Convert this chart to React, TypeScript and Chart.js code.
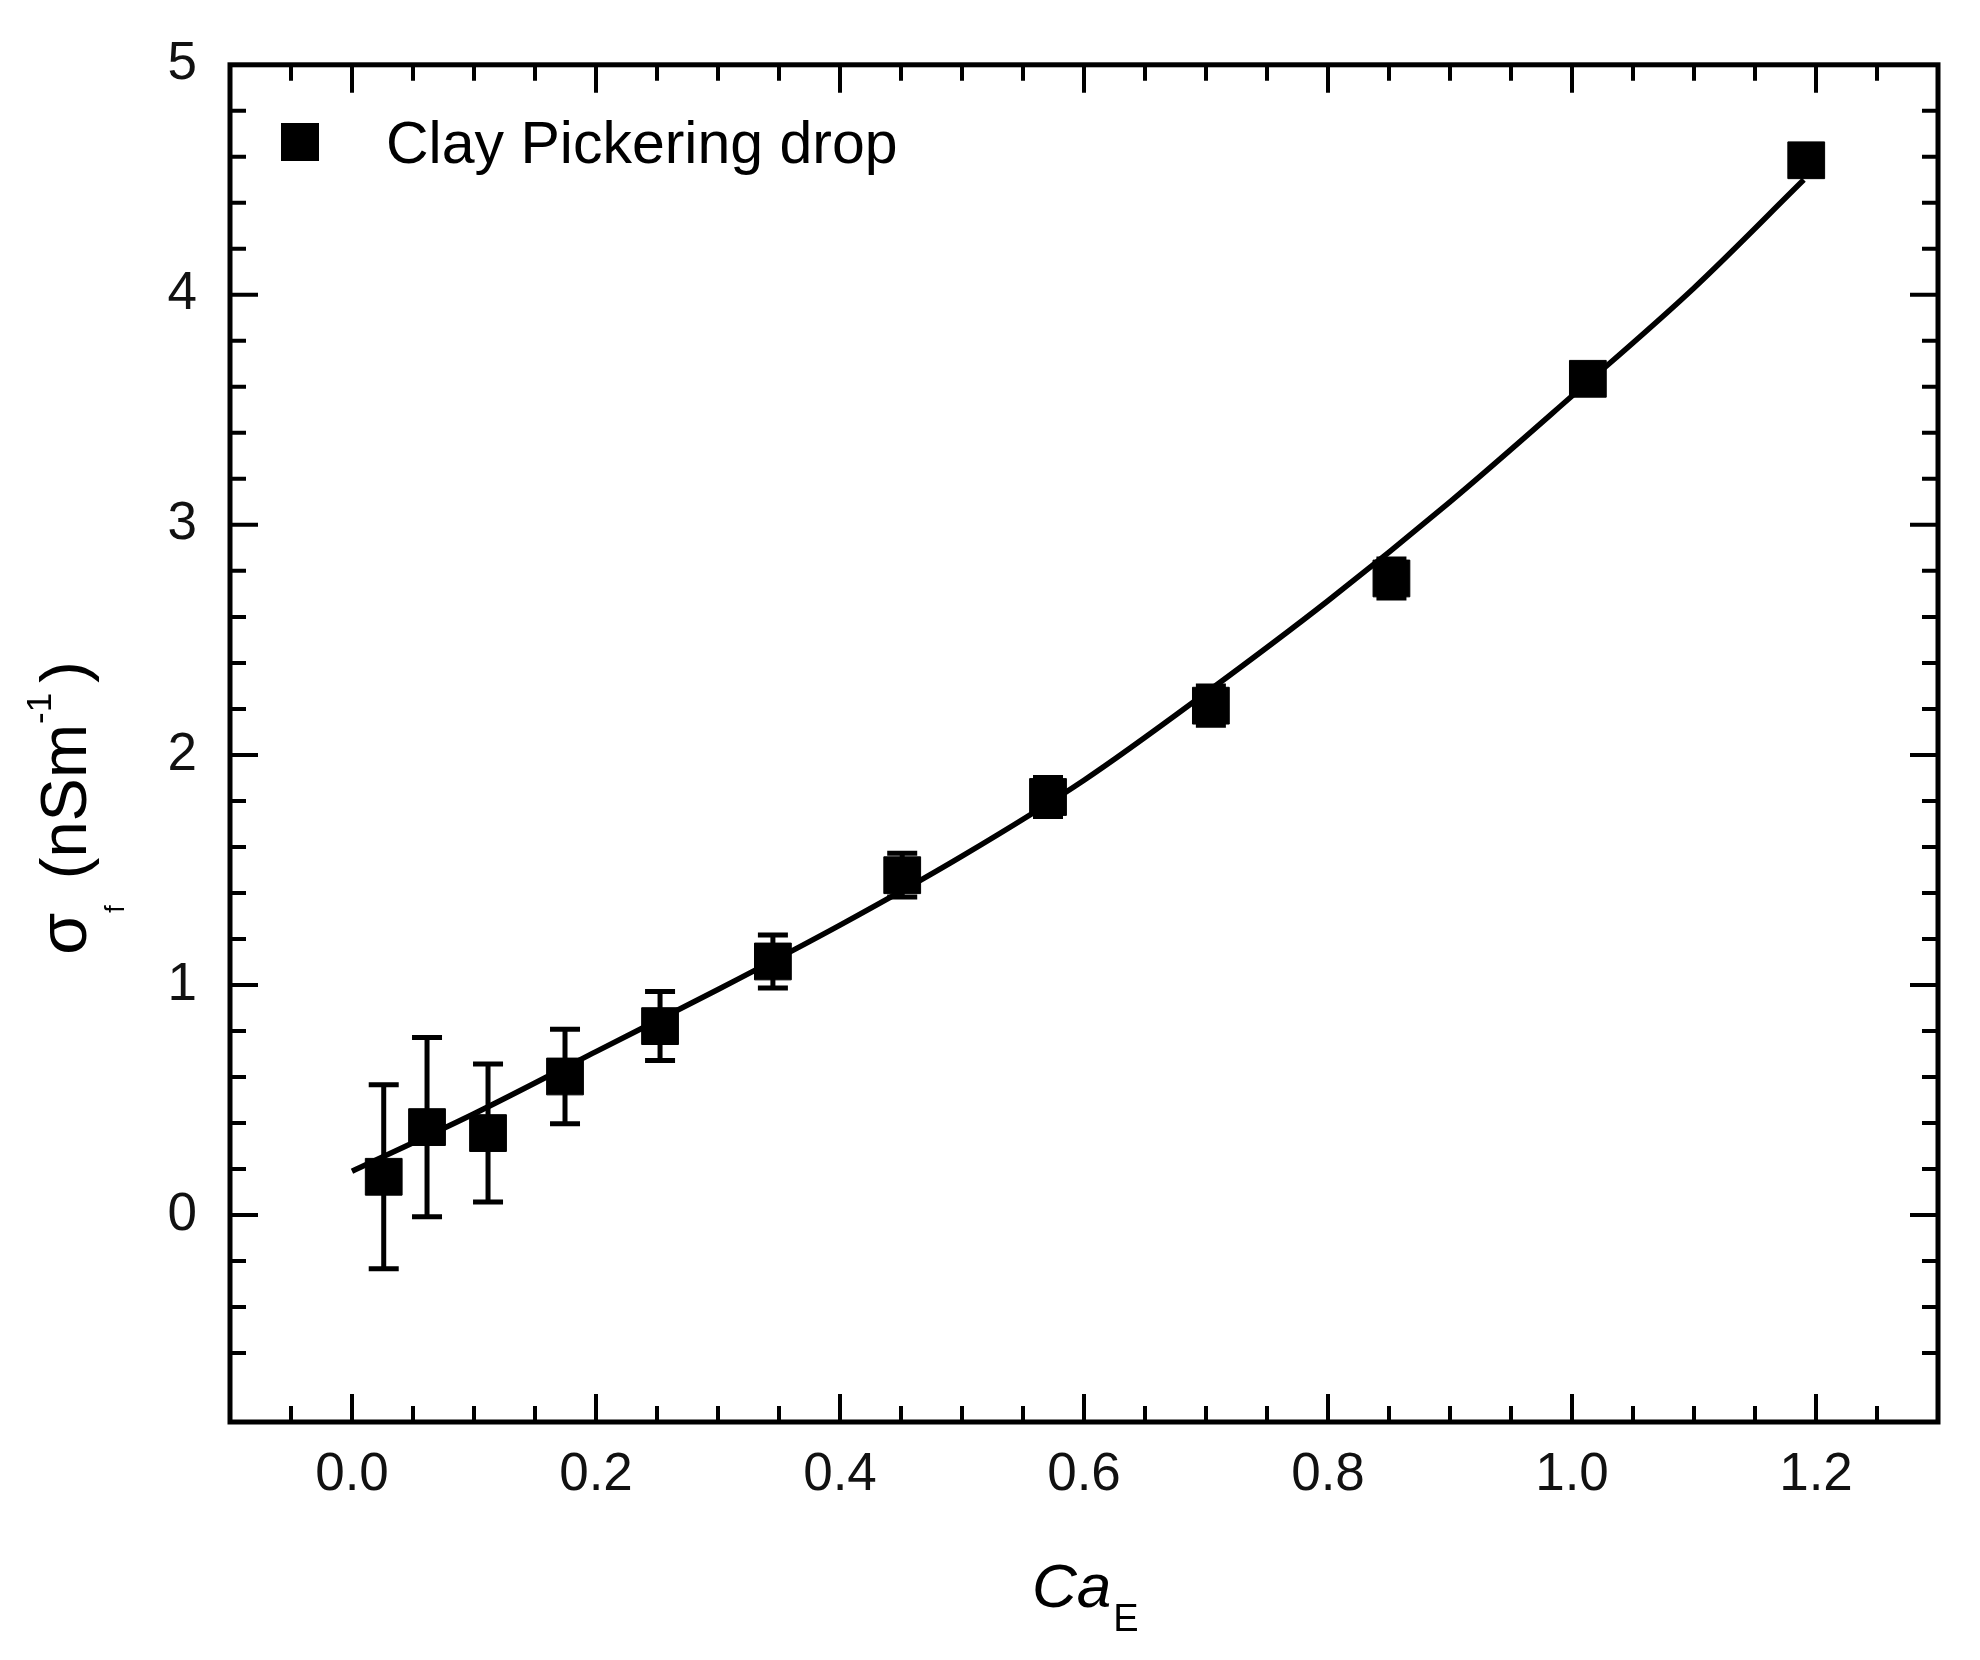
import { useEffect, useRef } from "react";
import { Chart, Plugin, registerables } from "chart.js";

Chart.register(...registerables);

// measured points (Ca_E, sigma_f) with symmetric error bars
const caE = [0.026, 0.0615, 0.1115, 0.1746, 0.2525, 0.345, 0.451, 0.5705, 0.704, 0.852, 1.013, 1.192];
const sigmaF = [0.166, 0.382, 0.356, 0.602, 0.821, 1.102, 1.477, 1.817, 2.214, 2.767, 3.635, 4.585];
const sigmaErr = [0.4, 0.39, 0.3, 0.205, 0.15, 0.115, 0.095, 0.085, 0.085, 0.085, 0.06, 0.06];

// fitted curve
const fitCaE = [0, 0.1, 0.2, 0.3, 0.4, 0.5, 0.6, 0.7, 0.8, 0.9, 1.0, 1.1, 1.19];
const fitSigma = [0.19, 0.44, 0.71, 0.98, 1.26, 1.56, 1.89, 2.27, 2.67, 3.1, 3.56, 4.03, 4.5];

const xTicks = [0, 0.2, 0.4, 0.6, 0.8, 1.0, 1.2];
const yTicks = [0, 1, 2, 3, 4, 5];
const legendLabel = "Clay Pickering drop";

const FONT = "'Liberation Sans', Arial, sans-serif";

const near = (v: number, list: number[]) => list.some((t) => Math.abs(t - v) < 1e-6);

const figurePlugin: Plugin<"scatter"> = {
  id: "figure",
  beforeDatasetsDraw(chart) {
    const { ctx } = chart;
    const x = chart.scales.x;
    const y = chart.scales.y;
    ctx.save();
    ctx.strokeStyle = "#000";
    ctx.lineWidth = 5;
    caE.forEach((v, i) => {
      const px = x.getPixelForValue(v);
      const top = y.getPixelForValue(sigmaF[i] + sigmaErr[i]);
      const bot = y.getPixelForValue(sigmaF[i] - sigmaErr[i]);
      ctx.beginPath();
      ctx.moveTo(px, top);
      ctx.lineTo(px, bot);
      ctx.moveTo(px - 15, top);
      ctx.lineTo(px + 15, top);
      ctx.moveTo(px - 15, bot);
      ctx.lineTo(px + 15, bot);
      ctx.stroke();
    });
    ctx.restore();
  },
  afterDraw(chart) {
    const { ctx, chartArea: a } = chart;
    const x = chart.scales.x;
    const y = chart.scales.y;
    ctx.save();
    ctx.strokeStyle = "#000";
    ctx.fillStyle = "#000";

    // inward ticks on all four sides
    ctx.lineWidth = 4;
    for (let i = Math.round(x.min / 0.05) + 1; i * 0.05 < x.max - 1e-6; i++) {
      const v = i * 0.05;
      const len = near(v, xTicks) ? 28 : 16;
      const px = x.getPixelForValue(v);
      ctx.beginPath();
      ctx.moveTo(px, a.bottom);
      ctx.lineTo(px, a.bottom - len);
      ctx.moveTo(px, a.top);
      ctx.lineTo(px, a.top + len);
      ctx.stroke();
    }
    for (let i = Math.round(y.min / 0.2) + 1; i * 0.2 < y.max - 1e-6; i++) {
      const v = i * 0.2;
      const len = near(v, yTicks) ? 28 : 16;
      const py = y.getPixelForValue(v);
      ctx.beginPath();
      ctx.moveTo(a.left, py);
      ctx.lineTo(a.left + len, py);
      ctx.moveTo(a.right, py);
      ctx.lineTo(a.right - len, py);
      ctx.stroke();
    }

    // frame
    ctx.lineWidth = 5;
    ctx.strokeRect(a.left, a.top, a.right - a.left, a.bottom - a.top);

    // legend
    ctx.fillRect(281, 123, 38, 38);
    ctx.font = `59px ${FONT}`;
    ctx.textBaseline = "alphabetic";
    ctx.textAlign = "left";
    ctx.fillText(legendLabel, 386, 163);

    // x title: Ca_E
    ctx.font = `italic 62px ${FONT}`;
    ctx.fillText("Ca", 1032, 1607);
    const caW = ctx.measureText("Ca").width;
    ctx.font = `38px ${FONT}`;
    ctx.fillText("E", 1032 + caW + 2, 1631);

    // y title: sigma_f (nSm^-1), rotated
    ctx.translate(86, 808);
    ctx.rotate(-Math.PI / 2);
    const parts: [string, number, number][] = [
      ["σ", 68, 0],
      ["f", 27, 38],
      [" (nSm", 65, 0],
      ["-1", 35, -35],
      [")", 65, 0],
    ];
    const widths = parts.map(([t, s]) => {
      ctx.font = `${s}px ${FONT}`;
      return ctx.measureText(t).width;
    });
    let cx = -(widths.reduce((p, w) => p + w, 0) + 18) / 2;
    parts.forEach(([t, s, dy], i) => {
      ctx.font = `${s}px ${FONT}`;
      ctx.fillText(t, cx, dy);
      cx += widths[i] + (i === 1 ? 8 : i === 3 ? 10 : 0);
    });
    ctx.restore();
  },
};

export default function App() {
  const canvasRef = useRef<HTMLCanvasElement>(null);
  const chartRef = useRef<Chart | null>(null);

  useEffect(() => {
    if (!canvasRef.current) return;
    if (chartRef.current) chartRef.current.destroy();

    chartRef.current = new Chart(canvasRef.current, {
      type: "scatter",
      data: {
        datasets: [
          {
            label: legendLabel,
            data: caE.map((v, i) => ({ x: v, y: sigmaF[i] })),
            pointStyle: "rect",
            pointRadius: 26,
            pointHoverRadius: 26,
            backgroundColor: "#000",
            borderColor: "#000",
            borderWidth: 1,
          },
          {
            label: "fit",
            data: fitCaE.map((v, i) => ({ x: v, y: fitSigma[i] })),
            showLine: true,
            pointRadius: 0,
            borderColor: "#000",
            borderWidth: 5.5,
            tension: 0.4,
            cubicInterpolationMode: "monotone",
          },
        ],
      },
      options: {
        animation: false,
        responsive: true,
        maintainAspectRatio: false,
        devicePixelRatio: 1,
        layout: { padding: { top: 54, right: 42, left: 0, bottom: 0 } },
        plugins: {
          legend: { display: false },
          tooltip: { enabled: false },
        },
        scales: {
          x: {
            type: "linear",
            min: -0.1,
            max: 1.3,
            grid: { display: false, drawTicks: false },
            border: { display: false },
            afterBuildTicks: (axis) => {
              axis.ticks = xTicks.map((value) => ({ value }));
            },
            afterFit: (axis) => {
              axis.height = 238;
            },
            ticks: {
              padding: 22,
              color: "#111",
              font: { family: FONT, size: 53 },
              callback: (v) => Number(v).toFixed(1),
            },
          },
          y: {
            type: "linear",
            min: -0.9,
            max: 5,
            grid: { display: false, drawTicks: false },
            border: { display: false },
            afterBuildTicks: (axis) => {
              axis.ticks = yTicks.map((value) => ({ value }));
            },
            afterFit: (axis) => {
              axis.width = 230;
            },
            ticks: {
              padding: 33,
              color: "#111",
              font: { family: FONT, size: 53 },
              callback: (v) => String(v),
            },
          },
        },
      },
      plugins: [figurePlugin],
    });

    return () => {
      if (chartRef.current) {
        chartRef.current.destroy();
        chartRef.current = null;
      }
    };
  }, []);

  return (
    <div style={{ position: "absolute", left: 0, top: 0, width: 1980, height: 1660, background: "#fff" }}>
      <canvas ref={canvasRef} />
    </div>
  );
}
